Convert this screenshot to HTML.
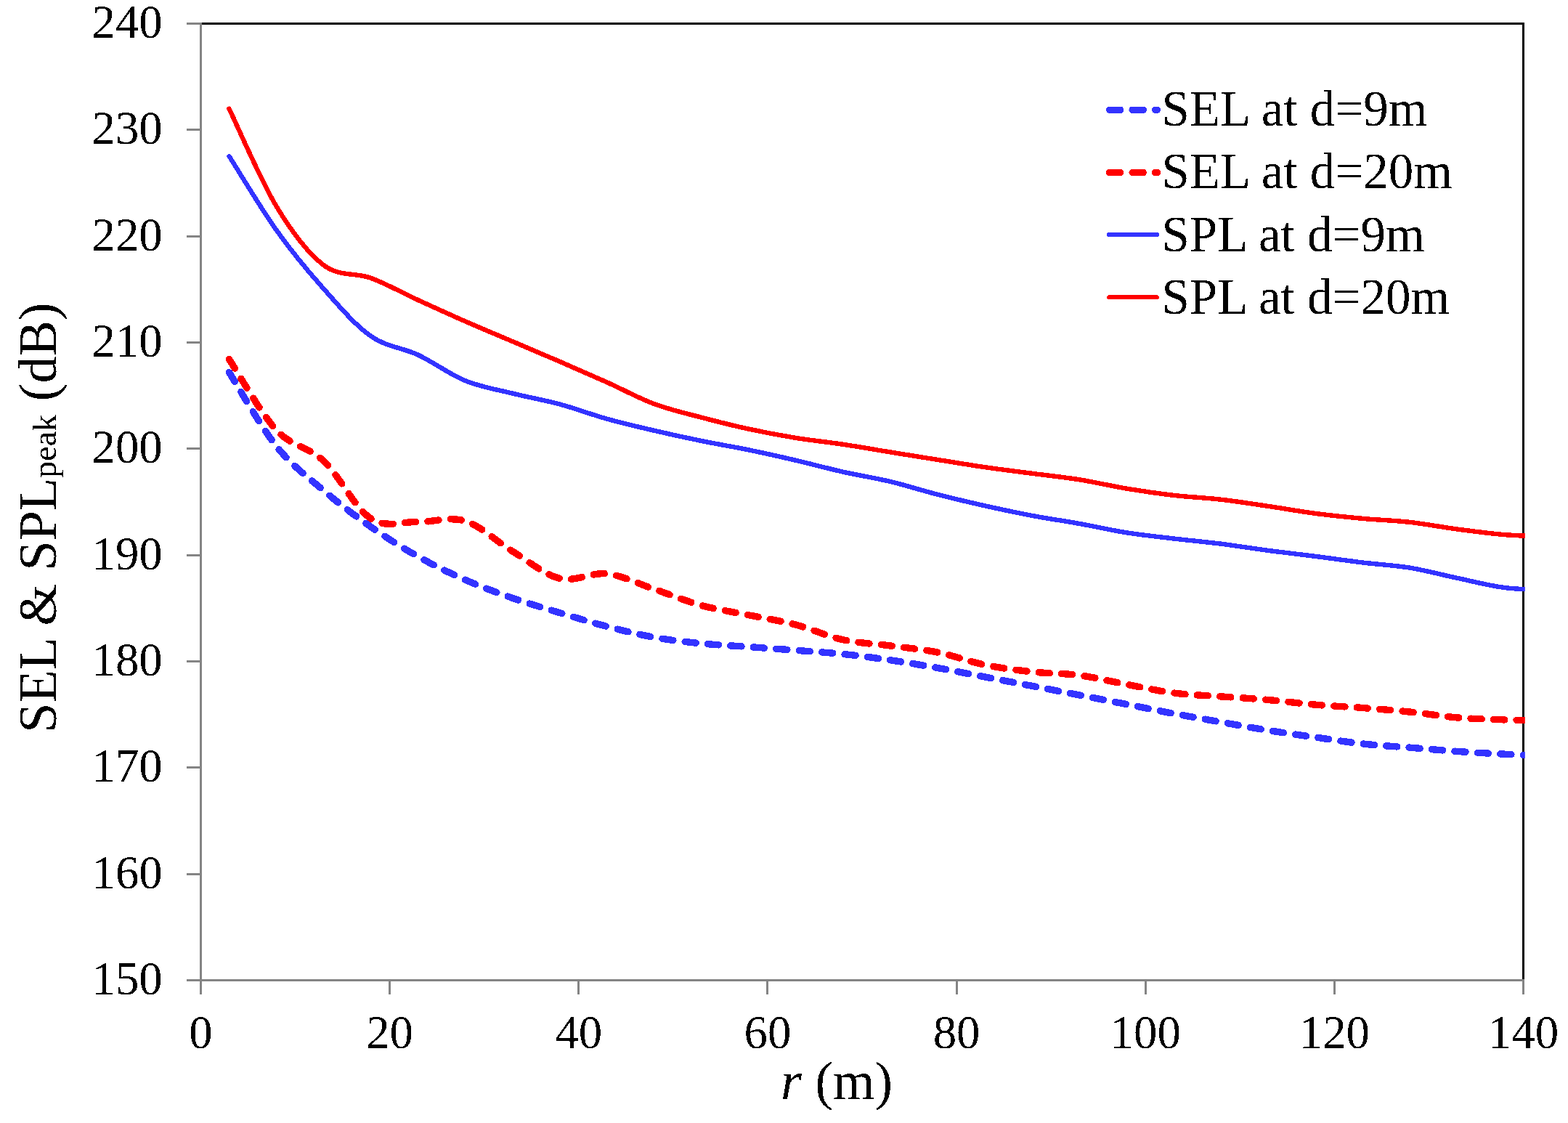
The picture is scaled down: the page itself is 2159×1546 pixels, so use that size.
<!DOCTYPE html>
<html lang="en"><head><meta charset="utf-8"><title>SEL &amp; SPLpeak versus range</title>
<style>
html,body{margin:0;padding:0;background:#fff;}
body{width:2159px;height:1546px;overflow:hidden;}
svg{display:block;}
text{font-family:"Liberation Serif","Times New Roman",Times,serif;fill:#000;}
.tk{font-size:64.8px;}
.lg{font-size:69.0px;}
.tt{font-size:74.0px;}
.sb{font-size:46.2px;}
.ax{stroke:#848484;stroke-width:3;fill:none;}
.bd{stroke:#000;stroke-width:3;fill:none;}
.cv{fill:none;stroke-linejoin:round;shape-rendering:crispEdges;}
.bi{filter:url(#bw);}
</style></head><body>
<svg xmlns="http://www.w3.org/2000/svg" width="2159" height="1546" viewBox="0 0 2159 1546">
<defs>
<filter id="bw" filterUnits="userSpaceOnUse" x="0" y="0" width="2159" height="1546" color-interpolation-filters="sRGB"><feComponentTransfer><feFuncA type="discrete" tableValues="0 1"/></feComponentTransfer></filter>
<clipPath id="pc"><rect x="276.5" y="30.5" width="1823.3" height="1319.0"/></clipPath>
</defs>
<rect x="0" y="0" width="2159" height="1546" fill="#ffffff"/>
<g shape-rendering="crispEdges">
<path class="bd" d="M276.5,32.5 H2097.5 V1349.5"/>
<path class="ax" d="M276.5,31.0 V1369.0"/>
<path class="ax" d="M257.0,1349.5 H2099.0"/>
<path class="ax" d="M257.0,32.50 H276.5"/>
<path class="ax" d="M257.0,178.83 H276.5"/>
<path class="ax" d="M257.0,325.17 H276.5"/>
<path class="ax" d="M257.0,471.50 H276.5"/>
<path class="ax" d="M257.0,617.83 H276.5"/>
<path class="ax" d="M257.0,764.17 H276.5"/>
<path class="ax" d="M257.0,910.50 H276.5"/>
<path class="ax" d="M257.0,1056.83 H276.5"/>
<path class="ax" d="M257.0,1203.17 H276.5"/>
<path class="ax" d="M257.0,1349.50 H276.5"/>
<path class="ax" d="M276.50,1349.5 V1369.0"/>
<path class="ax" d="M536.64,1349.5 V1369.0"/>
<path class="ax" d="M796.79,1349.5 V1369.0"/>
<path class="ax" d="M1056.93,1349.5 V1369.0"/>
<path class="ax" d="M1317.07,1349.5 V1369.0"/>
<path class="ax" d="M1577.21,1349.5 V1369.0"/>
<path class="ax" d="M1837.36,1349.5 V1369.0"/>
<path class="ax" d="M2097.50,1349.5 V1369.0"/>
</g>
<g clip-path="url(#pc)">
<path class="cv" stroke="#3333ff" stroke-width="9.4" stroke-linecap="round" stroke-dasharray="15.15 16.37" d="M315.52,512.70 C326.36,529.63 358.88,587.20 380.56,614.30 C402.24,641.40 423.91,656.80 445.59,675.30 C467.27,693.80 488.95,710.15 510.63,725.30 C532.31,740.45 553.99,754.03 575.66,766.20 C597.34,778.37 619.02,788.78 640.70,798.30 C662.38,807.82 684.06,815.75 705.74,823.30 C727.41,830.85 749.09,837.07 770.77,843.60 C792.45,850.13 814.13,856.87 835.81,862.50 C857.49,868.13 879.16,873.50 900.84,877.40 C922.52,881.30 944.20,883.72 965.88,885.90 C987.56,888.08 1009.24,888.93 1030.91,890.50 C1052.59,892.07 1074.27,893.63 1095.95,895.30 C1117.63,896.97 1139.31,898.25 1160.99,900.50 C1182.66,902.75 1204.34,905.63 1226.02,908.80 C1247.70,911.97 1269.38,915.65 1291.06,919.50 C1312.74,923.35 1334.41,927.75 1356.09,931.90 C1377.77,936.05 1399.45,940.23 1421.13,944.40 C1442.81,948.57 1464.49,952.70 1486.16,956.90 C1507.84,961.10 1529.52,965.35 1551.20,969.60 C1572.88,973.85 1594.56,978.32 1616.24,982.40 C1637.91,986.48 1659.59,990.25 1681.27,994.10 C1702.95,997.95 1724.63,1002.02 1746.31,1005.50 C1767.99,1008.98 1789.66,1011.92 1811.34,1015.00 C1833.02,1018.08 1854.70,1021.63 1876.38,1024.00 C1898.06,1026.37 1919.74,1027.47 1941.41,1029.20 C1963.09,1030.93 1984.77,1032.90 2006.45,1034.40 C2028.13,1035.90 2049.81,1037.18 2071.49,1038.20 C2093.16,1039.22 2125.68,1040.12 2136.52,1040.50"/>
<path class="cv" stroke="#ff0000" stroke-width="9.4" stroke-linecap="round" stroke-dasharray="15.15 16.37" d="M315.52,494.60 C326.36,510.85 358.88,568.77 380.56,592.10 C402.24,615.43 423.91,614.30 445.59,634.60 C467.27,654.90 488.95,699.93 510.63,713.90 C532.31,727.87 553.99,717.82 575.66,718.40 C597.34,718.98 619.02,710.63 640.70,717.40 C662.38,724.17 684.06,745.85 705.74,759.00 C727.41,772.15 749.09,791.15 770.77,796.30 C792.45,801.45 814.13,787.43 835.81,789.90 C857.49,792.37 879.16,803.83 900.84,811.10 C922.52,818.37 944.20,827.55 965.88,833.50 C987.56,839.45 1009.24,842.35 1030.91,846.80 C1052.59,851.25 1074.27,854.53 1095.95,860.20 C1117.63,865.87 1139.31,876.00 1160.99,880.80 C1182.66,885.60 1204.34,886.12 1226.02,889.00 C1247.70,891.88 1269.38,893.72 1291.06,898.10 C1312.74,902.48 1334.41,910.83 1356.09,915.30 C1377.77,919.77 1399.45,922.50 1421.13,924.90 C1442.81,927.30 1464.49,926.82 1486.16,929.70 C1507.84,932.58 1529.52,938.15 1551.20,942.20 C1572.88,946.25 1594.56,951.22 1616.24,954.00 C1637.91,956.78 1659.59,957.32 1681.27,958.90 C1702.95,960.48 1724.63,961.62 1746.31,963.50 C1767.99,965.38 1789.66,968.37 1811.34,970.20 C1833.02,972.03 1854.70,972.85 1876.38,974.50 C1898.06,976.15 1919.74,977.87 1941.41,980.10 C1963.09,982.33 1984.77,986.10 2006.45,987.90 C2028.13,989.70 2049.81,990.13 2071.49,990.90 C2093.16,991.67 2125.68,992.23 2136.52,992.50"/>
<path class="cv" stroke="#3333ff" stroke-width="6.4" stroke-linecap="round" d="M315.52,215.00 C326.36,231.97 358.88,286.38 380.56,316.80 C402.24,347.22 423.91,373.17 445.59,397.50 C467.27,421.83 488.95,447.62 510.63,462.80 C532.31,477.98 553.99,478.38 575.66,488.60 C597.34,498.82 619.02,515.27 640.70,524.10 C662.38,532.93 684.06,536.20 705.74,541.60 C727.41,547.00 749.09,550.65 770.77,556.50 C792.45,562.35 814.13,570.65 835.81,576.70 C857.49,582.75 879.16,587.75 900.84,592.80 C922.52,597.85 944.20,602.57 965.88,607.00 C987.56,611.43 1009.24,614.93 1030.91,619.40 C1052.59,623.87 1074.27,628.75 1095.95,633.80 C1117.63,638.85 1139.31,644.83 1160.99,649.70 C1182.66,654.57 1204.34,657.82 1226.02,663.00 C1247.70,668.18 1269.38,675.25 1291.06,680.80 C1312.74,686.35 1334.41,691.45 1356.09,696.30 C1377.77,701.15 1399.45,705.80 1421.13,709.90 C1442.81,714.00 1464.49,717.00 1486.16,720.90 C1507.84,724.80 1529.52,729.87 1551.20,733.30 C1572.88,736.73 1594.56,738.93 1616.24,741.50 C1637.91,744.07 1659.59,745.97 1681.27,748.70 C1702.95,751.43 1724.63,755.03 1746.31,757.90 C1767.99,760.77 1789.66,763.13 1811.34,765.90 C1833.02,768.67 1854.70,771.87 1876.38,774.50 C1898.06,777.13 1919.74,778.15 1941.41,781.70 C1963.09,785.25 1984.77,791.25 2006.45,795.80 C2028.13,800.35 2049.81,806.22 2071.49,809.00 C2093.16,811.78 2125.68,811.92 2136.52,812.50"/>
<path class="cv" stroke="#ff0000" stroke-width="6.4" stroke-linecap="round" d="M315.52,149.70 C326.36,172.08 358.88,248.12 380.56,284.00 C402.24,319.88 423.91,348.53 445.59,365.00 C467.27,381.47 488.95,374.78 510.63,382.80 C532.31,390.82 553.99,403.17 575.66,413.10 C597.34,423.03 619.02,432.90 640.70,442.40 C662.38,451.90 684.06,460.87 705.74,470.10 C727.41,479.33 749.09,488.43 770.77,497.80 C792.45,507.17 814.13,516.58 835.81,526.30 C857.49,536.02 879.16,548.03 900.84,556.10 C922.52,564.17 944.20,568.95 965.88,574.70 C987.56,580.45 1009.24,585.90 1030.91,590.60 C1052.59,595.30 1074.27,599.37 1095.95,602.90 C1117.63,606.43 1139.31,608.53 1160.99,611.80 C1182.66,615.07 1204.34,618.98 1226.02,622.50 C1247.70,626.02 1269.38,629.45 1291.06,632.90 C1312.74,636.35 1334.41,640.05 1356.09,643.20 C1377.77,646.35 1399.45,648.95 1421.13,651.80 C1442.81,654.65 1464.49,656.83 1486.16,660.30 C1507.84,663.77 1529.52,669.00 1551.20,672.60 C1572.88,676.20 1594.56,679.38 1616.24,681.90 C1637.91,684.42 1659.59,685.20 1681.27,687.70 C1702.95,690.20 1724.63,693.70 1746.31,696.90 C1767.99,700.10 1789.66,704.07 1811.34,706.90 C1833.02,709.73 1854.70,711.90 1876.38,713.90 C1898.06,715.90 1919.74,716.47 1941.41,718.90 C1963.09,721.33 1984.77,725.63 2006.45,728.50 C2028.13,731.37 2049.81,734.33 2071.49,736.10 C2093.16,737.87 2125.68,738.60 2136.52,739.10"/>
</g>
<g class="bi">
<text class="tk" x="223.7" y="52.0" text-anchor="end">240</text>
<text class="tk" x="223.7" y="198.3" text-anchor="end">230</text>
<text class="tk" x="223.7" y="344.7" text-anchor="end">220</text>
<text class="tk" x="223.7" y="491.0" text-anchor="end">210</text>
<text class="tk" x="223.7" y="637.3" text-anchor="end">200</text>
<text class="tk" x="223.7" y="783.7" text-anchor="end">190</text>
<text class="tk" x="223.7" y="930.0" text-anchor="end">180</text>
<text class="tk" x="223.7" y="1076.3" text-anchor="end">170</text>
<text class="tk" x="223.7" y="1222.7" text-anchor="end">160</text>
<text class="tk" x="223.7" y="1369.0" text-anchor="end">150</text>
<text class="tk" x="276.5" y="1442.8" text-anchor="middle">0</text>
<text class="tk" x="536.6" y="1442.8" text-anchor="middle">20</text>
<text class="tk" x="796.8" y="1442.8" text-anchor="middle">40</text>
<text class="tk" x="1056.9" y="1442.8" text-anchor="middle">60</text>
<text class="tk" x="1317.1" y="1442.8" text-anchor="middle">80</text>
<text class="tk" x="1577.2" y="1442.8" text-anchor="middle">100</text>
<text class="tk" x="1837.4" y="1442.8" text-anchor="middle">120</text>
<text class="tk" x="2097.5" y="1442.8" text-anchor="middle">140</text>
<path class="cv" stroke="#3333ff" stroke-width="9.4" stroke-linecap="round" stroke-dasharray="15.15 16.37" d="M1527.6,151.2 H1593.4"/>
<text class="lg" x="1599.4" y="172.9">SEL at d=9m</text>
<path class="cv" stroke="#ff0000" stroke-width="9.4" stroke-linecap="round" stroke-dasharray="15.15 16.37" d="M1527.6,237.5 H1593.4"/>
<text class="lg" x="1599.4" y="259.2">SEL at d=20m</text>
<path class="cv" stroke="#3333ff" stroke-width="6" stroke-linecap="round" d="M1527.1,323.0 H1592.9"/>
<text class="lg" x="1599.4" y="345.5">SPL at d=9m</text>
<path class="cv" stroke="#ff0000" stroke-width="6" stroke-linecap="round" d="M1527.1,409.3 H1592.9"/>
<text class="lg" x="1599.4" y="431.8">SPL at d=20m</text>
<text class="tt" x="1074.9" y="1512.8"><tspan font-style="italic">r</tspan> (m)</text>
<text class="tt" transform="translate(77.1,1008.7) rotate(-90)">SEL &amp; SPL<tspan class="sb">peak</tspan> (dB)</text>
</g>
</svg>
</body></html>
